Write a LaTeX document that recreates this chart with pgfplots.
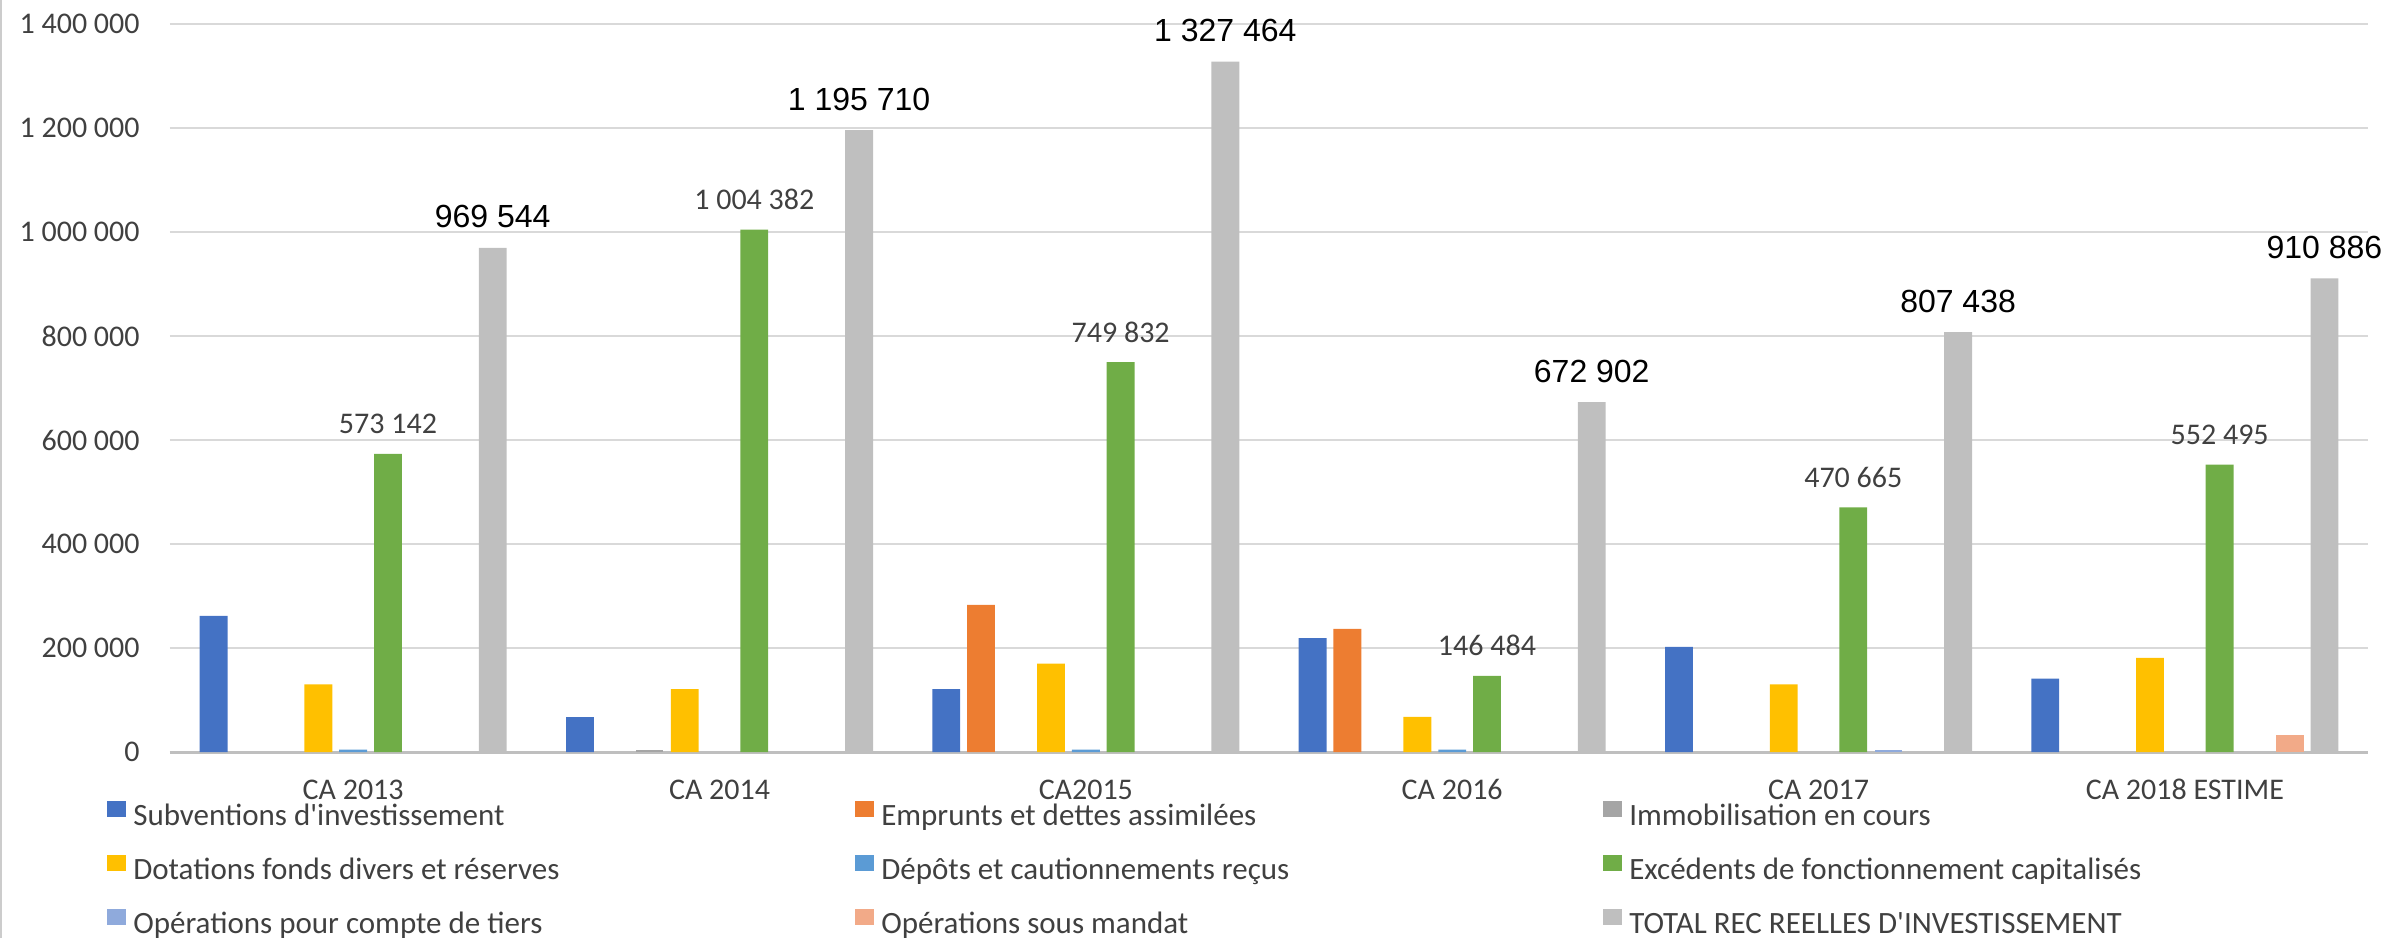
\documentclass[border=0pt]{standalone}
\usepackage{pgfplots}
\pgfplotsset{compat=1.18}
\usepackage{fontspec}
\setmainfont{Carlito}
\newfontfamily\arialf{Liberation Sans}

\definecolor{cSub}{HTML}{4472C4}
\definecolor{cEmp}{HTML}{ED7D31}
\definecolor{cImm}{HTML}{A5A5A5}
\definecolor{cDot}{HTML}{FFC000}
\definecolor{cDep}{HTML}{5B9BD5}
\definecolor{cExc}{HTML}{70AD47}
\definecolor{cTie}{HTML}{8FAADC}
\definecolor{cMan}{HTML}{F2AA88}
\definecolor{cTot}{HTML}{BFBFBF}
\definecolor{txt}{HTML}{404040}
\definecolor{gridc}{HTML}{D9D9D9}

\newcommand{\lbl}[1]{\makebox[330pt][l]{#1}}
\newcommand{\totfont}{\arialf\fontsize{16}{19}\selectfont}
\newcommand{\smfont}{\fontsize{15}{18}\selectfont}
\newcommand{\legfont}{\fontsize{15.5}{18}\selectfont}
\newcommand{\q}{\textquotesingle}

\begin{document}
\begin{tikzpicture}
\path[use as bounding box] (-85pt,-93pt) rectangle (1111pt,376pt);
\draw[gray!40, line width=1pt] (-84.5pt,-93pt) -- (-84.5pt,376pt);
\begin{axis}[
  at={(0pt,0pt)}, anchor=south west,
  scale only axis, width=1099pt, height=364pt,
  ybar, bar width=0.076,
  xmin=-0.5, xmax=5.5, ymin=0, ymax=1400000,
  axis lines*=left,
  y axis line style={draw=none},
  x axis line style={draw=cTot, line width=1.5pt},
  ymajorgrids, grid style={draw=gridc, line width=1pt},
  major tick length=0pt, tick style={draw=none},
  scaled y ticks=false,
  ytick={0,200000,400000,600000,800000,1000000,1200000,1400000},
  yticklabels={0,200~000,400~000,600~000,800~000,1~000~000,1~200~000,1~400~000},
  xtick={0,1,2,3,4,5},
  xticklabels={CA 2013,CA 2014,CA2015,CA 2016,CA 2017,CA 2018 ESTIME},
  tick label style={font=\smfont, text=txt},
  yticklabel style={anchor=east, inner sep=0pt, xshift=-15pt},
  xticklabel style={anchor=base, inner sep=0pt, yshift=-23.5pt},
  legend columns=3,
  legend cell align=left,
  legend image code/.code={\fill[#1] (0pt,0.5pt) rectangle (9.5pt,8.5pt);},
  legend style={draw=none, fill=none, inner sep=0pt,
    at={(-0.0287,-0.0673)}, anchor=north west,
    font=\legfont, text=txt,
    nodes={inner sep=0pt, text height=10.5pt, text depth=3.5pt},
    row sep=11.5pt,
    /tikz/every odd column/.append style={column sep=3.5pt},
    /tikz/every even column/.append style={column sep=31pt}},
]
\addplot[fill=cSub, draw=none, bar shift=-0.381] coordinates
  {(0,262000) (1,67000) (2,121000) (3,219000) (4,202000) (5,141000)};
\addlegendentry{\lbl{Subventions d\q investissement}}
\addplot[fill=cEmp, draw=none, bar shift=-0.286] coordinates
  {(2,283000) (3,237000)};
\addlegendentry{\lbl{Emprunts et dettes assimilées}}
\addplot[fill=cImm, draw=none, bar shift=-0.191] coordinates
  {(1,4000)};
\addlegendentry{\lbl{Immobilisation en cours}}
\addplot[fill=cDot, draw=none, bar shift=-0.095] coordinates
  {(0,130000) (1,121000) (2,170000) (3,67500) (4,130000) (5,181000)};
\addlegendentry{\lbl{Dotations fonds divers et réserves}}
\addplot[fill=cDep, draw=none, bar shift=0] coordinates
  {(0,4500) (2,4400) (3,4400)};
\addlegendentry{\lbl{Dépôts et cautionnements reçus}}
\addplot[fill=cExc, draw=none, bar shift=0.095,
  point meta=explicit symbolic,
  nodes near coords,
  every node near coord/.append style={anchor=base, yshift=10pt, font=\smfont, text=txt}]
  coordinates {(0,573142) [573 142] (1,1004382) [1 004 382] (2,749832) [749 832]
   (3,146484) [146 484] (4,470665) [470 665] (5,552495) [552 495]};
\addlegendentry{\lbl{Excédents de fonctionnement capitalisés}}
\addplot[fill=cTie, draw=none, bar shift=0.191] coordinates
  {(4,4000)};
\addlegendentry{\lbl{Opérations pour compte de tiers}}
\addplot[fill=cMan, draw=none, bar shift=0.286] coordinates
  {(5,33000)};
\addlegendentry{\lbl{Opérations sous mandat}}
\addplot[fill=cTot, draw=none, bar shift=0.381,
  point meta=explicit symbolic,
  nodes near coords,
  every node near coord/.append style={anchor=base, yshift=10pt, font=\totfont, text=black}]
  coordinates {(0,969544) [969 544] (1,1195710) [1 195 710] (2,1327464) [1 327 464]
   (3,672902) [672 902] (4,807438) [807 438] (5,910886) [910 886]};
\addlegendentry{\lbl{TOTAL REC REELLES D\q INVESTISSEMENT}}
\end{axis}
\end{tikzpicture}
\end{document}
